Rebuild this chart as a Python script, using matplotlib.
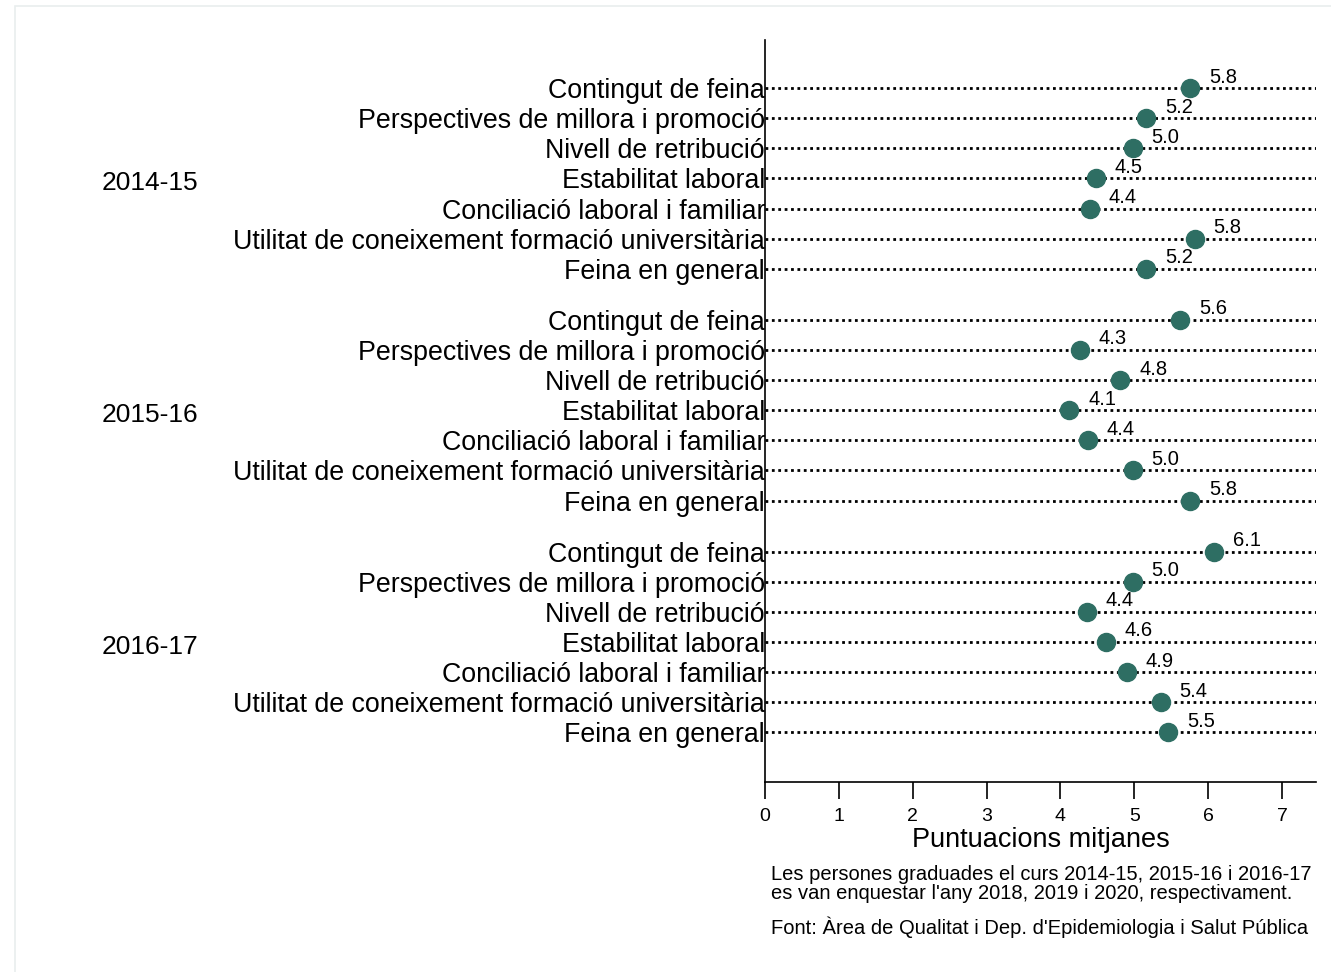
import matplotlib.pyplot as plt
from matplotlib.patches import Rectangle
from matplotlib.transforms import blended_transform_factory

plt.rcParams['font.family'] = ['Liberation Sans', 'DejaVu Sans']

# Dades
cursos = ['2014-15', '2015-16', '2016-17']
aspectes = ['Contingut de feina', 'Perspectives de millora i promoció',
            'Nivell de retribució', 'Estabilitat laboral',
            'Conciliació laboral i familiar',
            'Utilitat de coneixement formació universitària',
            'Feina en general']
punts_2014 = [5.76, 5.16, 4.98, 4.48, 4.40, 5.82, 5.16]
punts_2015 = [5.62, 4.26, 4.81, 4.12, 4.37, 4.98, 5.76]
punts_2016 = [6.08, 4.98, 4.36, 4.62, 4.90, 5.36, 5.46]
nota = ("Les persones graduades el curs 2014-15, 2015-16 i 2016-17\n"
        "es van enquestar l'any 2018, 2019 i 2020, respectivament.")
font = "Font: Àrea de Qualitat i Dep. d'Epidemiologia i Salut Pública"

color = '#2e6e63'
gap = 0.7

fig = plt.figure(figsize=(13.31, 9.72), dpi=100)
ax = fig.add_axes([765 / 1331, 1 - 782 / 972, (1316 - 765) / 1331, (782 - 40) / 972])

# marc exterior
fig.patches.append(Rectangle((15 / 1331, -0.1), 1.2, 1 - 6 / 972 + 0.1,
                             transform=fig.transFigure, fill=False,
                             edgecolor='#e9eeee', linewidth=1.2))

trans = blended_transform_factory(fig.transFigure, ax.transData)
ys, labels = [], []
for g, vals in enumerate([punts_2014, punts_2015, punts_2016]):
    pos = [g * (len(aspectes) + gap) + i for i in range(len(aspectes))]
    for y, v, lab in zip(pos, vals, aspectes):
        ax.axhline(y, color='black', linestyle=(0, (1, 1.3)), linewidth=2, zorder=1)
        ax.plot(v, y, 'o', color=color, markersize=13, zorder=3)
        ax.annotate(f'{v:.1f}', (v, y), xytext=(13.5, 8), textcoords='offset points',
                    ha='left', va='center', fontsize=14.5)
        ys.append(y)
        labels.append(lab)
    ax.text(102 / 1331, pos[3] + 0.15, cursos[g], transform=trans,
            ha='left', va='center', fontsize=19)

ax.set_yticks(ys)
ax.set_yticklabels(labels, fontsize=19.3)
ax.tick_params(axis='y', length=0, pad=0)
ax.set_ylim(ys[-1] + 1.65, ys[0] - 1.6)

ax.set_xlim(0, 7.46)
ax.set_xticks(range(8))
ax.tick_params(axis='x', length=12, width=1.2, labelsize=14, pad=7)
ax.set_xlabel('Puntuacions mitjanes', fontsize=19.5, labelpad=1)

for s in ['top', 'right']:
    ax.spines[s].set_visible(False)
for s in ['left', 'bottom']:
    ax.spines[s].set_linewidth(1.2)

fig.text(771 / 1331, 1 - 884 / 972, nota, ha='left', va='center', fontsize=14.5,
         linespacing=1.05)
fig.text(771 / 1331, 1 - 927 / 972, font, ha='left', va='center', fontsize=14.5)

fig.savefig('out.png', dpi=100)
